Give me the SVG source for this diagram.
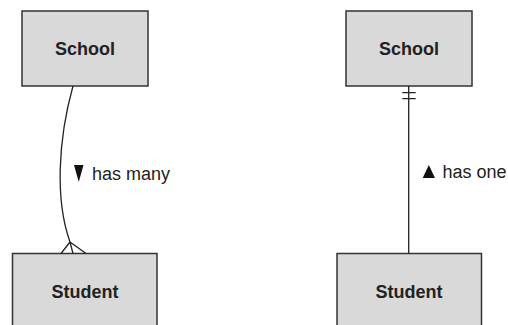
<svg xmlns="http://www.w3.org/2000/svg" width="508" height="325" viewBox="0 0 508 325">
<style>
.box{fill:#d9d9d9;stroke:#333;stroke-width:1.5}
.lbl{font-family:"Liberation Sans",Arial,sans-serif;font-size:18px;font-weight:bold;fill:#222;text-anchor:middle}
.rel{font-family:"Liberation Sans",Arial,sans-serif;font-size:18px;fill:#222}
.ln{fill:none;stroke:#222;stroke-width:1.3}
</style>
<rect width="508" height="325" fill="#fff"/>
<g id="school1"><rect class="box" x="22" y="11" width="126" height="75"/><text class="lbl" x="85" y="55">School</text></g>
<g id="student1"><rect class="box" x="12.5" y="253.5" width="144.5" height="80"/><text class="lbl" x="85" y="298">Student</text></g>
<g id="school2"><rect class="box" x="346" y="11" width="126" height="75"/><text class="lbl" x="409" y="55">School</text></g>
<g id="student2"><rect class="box" x="337" y="253.5" width="144.5" height="80"/><text class="lbl" x="409" y="298">Student</text></g>
<g id="connectors">
<path class="ln" d="M73,86 C58,140 55,200 70,242 L73,253.5 M70,242 L61,253.5 M70,242 L86,253.5"/>
<path class="ln" d="M408.7,86 V253.5 M402.3,92.7 H415.7 M402.3,98.7 H415.7"/>
<polygon points="74,165 83.5,165 78.75,182" fill="#111"/>
<text class="rel" x="92" y="180">has many</text>
<polygon points="422.7,178 435,178 428.85,165" fill="#111"/>
<text class="rel" x="442.5" y="178">has one</text>
</g>
</svg>
